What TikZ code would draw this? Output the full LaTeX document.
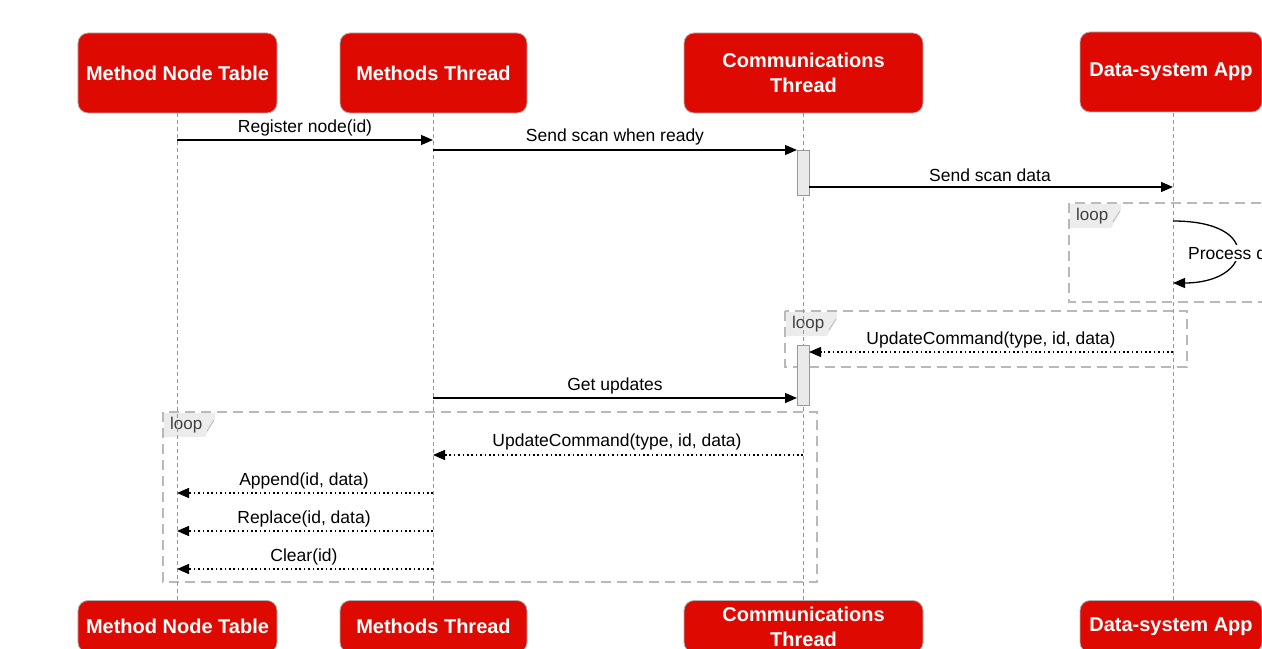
\documentclass[tikz,border=0pt]{standalone}
\usepackage{fontspec}
\setmainfont{Liberation Sans}
\usetikzlibrary{arrows.meta}
\definecolor{boxred}{RGB}{222,10,2}
\definecolor{lifegray}{RGB}{150,150,150}
\definecolor{framegray}{RGB}{185,185,185}
\definecolor{tabgray}{RGB}{236,236,236}
\definecolor{actgray}{RGB}{234,234,234}
\tikzset{
  actor/.style={draw=gray!60, line width=0.8bp, fill=boxred, rounded corners=10bp, text=white,
    font=\fontsize{20bp}{25bp}\selectfont\bfseries, align=center, inner sep=0pt},
  lifeline/.style={draw=lifegray, line width=0.8bp, dash pattern=on 4bp off 3bp},
  loopframe/.style={draw=framegray, line width=1.4bp, dash pattern=on 10bp off 6bp},
  looptab/.style={fill=tabgray, draw=none},
  looptext/.style={font=\fontsize{17bp}{19bp}\selectfont, text=black!75, inner sep=0pt},
  activation/.style={draw=gray!80, line width=0.8bp, fill=actgray, inner sep=0pt},
  msg/.style={draw=black, line width=1.3bp, -{Triangle[length=12bp,width=10bp]}},
  reply/.style={draw=black, line width=1.4bp, dash pattern=on 1.6bp off 2.8bp, -{Triangle[length=12bp,width=10bp]}},
  lbl/.style={font=\fontsize{17.5bp}{20bp}\selectfont, inner sep=1bp}
}
\begin{document}
\begin{tikzpicture}[x=1bp,y=-1bp]
\useasboundingbox (0,0) rectangle (1262,649);
\clip (0,0) rectangle (1262,649);

% loop frames
\draw[loopframe] (1069,203) rectangle (1290,302);
\draw[loopframe] (785,311) rectangle (1187,367);
\draw[loopframe] (163,412) rectangle (817,582);

% loop tabs
\foreach \x/\y/\n in {1069/203/a,785/311/b,163/412/c}{
  \fill[looptab] (\x+1,\y+1) -- (\x+52,\y+1) -- (\x+52,\y+7) -- (\x+42,\y+25) -- (\x+1,\y+25) -- cycle;
  \draw[framegray, line width=0.8bp] (\x+51,\y+8) -- (\x+44,\y+19);
  \node[looptext, anchor=west] (loop\n) at (\x+7,\y+13) {loop};
}

% actors
\node[actor, minimum width=199bp, minimum height=80bp] (t1) at (177.5,73) {Method Node Table};
\node[actor, minimum width=187bp, minimum height=80bp] (t2) at (433.5,73) {Methods Thread};
\node[actor, minimum width=239bp, minimum height=80bp] (t3) at (803.5,73) {Communications\\Thread};
\node[actor, minimum width=182bp, minimum height=80bp] (t4) at (1171,72) {Data-system App};

\node[actor, minimum width=199bp, minimum height=52bp] (b1) at (177.5,626.5) {Method Node Table};
\node[actor, minimum width=187bp, minimum height=52bp] (b2) at (433.5,626.5) {Methods Thread};
\node[actor, minimum width=239bp, minimum height=52bp] (b3) at (803.5,626.5) {Communications\\Thread};
\node[actor, minimum width=182bp, minimum height=52bp] (b4) at (1171,626.5) {Data-system App};

% lifelines
\coordinate (l1t) at (177,113); \coordinate (l1b) at (177,600);
\coordinate (l2t) at (433,113); \coordinate (l2b) at (433,600);
\coordinate (l3t) at (803,113); \coordinate (l3b) at (803,600);
\coordinate (l4t) at (1173,113); \coordinate (l4b) at (1173,600);
\draw[lifeline] (l1t) -- (l1b);
\draw[lifeline] (l2t) -- (l2b);
\draw[lifeline] (l3t) -- (l3b);
\draw[lifeline] (l4t) -- (l4b);

% activation bars
\node[activation, minimum width=12bp, minimum height=45bp] (act1) at (803,172.5) {};
\node[activation, minimum width=12bp, minimum height=60bp] (act2) at (803,375) {};

% message endpoints
\coordinate (m1a) at (177,140); \coordinate (m1b) at (433,140);
\coordinate (m2a) at (433,150); \coordinate (m2b) at (797,150);
\coordinate (m3a) at (809,187); \coordinate (m3b) at (1173,187);
\coordinate (m4a) at (1173,221); \coordinate (m4b) at (1173,283);
\coordinate (m5a) at (1173,352); \coordinate (m5b) at (809,352);
\coordinate (m6a) at (433,398); \coordinate (m6b) at (797,398);
\coordinate (m7a) at (803,455); \coordinate (m7b) at (433,455);
\coordinate (m8a) at (433,493); \coordinate (m8b) at (177,493);
\coordinate (m9a) at (433,531); \coordinate (m9b) at (177,531);
\coordinate (m10a) at (433,569); \coordinate (m10b) at (177,569);

\draw[msg] (m1a) -- (m1b);
\node[lbl] (lb1) at (305,128) {Register node(id)};
\draw[msg] (m2a) -- (m2b);
\node[lbl] (lb2) at (615,137) {Send scan when ready};
\draw[msg] (m3a) -- (m3b);
\node[lbl] (lb3) at (990,175) {Send scan data};
\draw[msg] (m4a) .. controls (1218,221) and (1238,236) .. (1238,252) .. controls (1238,268) and (1218,283) .. (m4b);
\node[lbl, fill=white, anchor=west, inner sep=2bp] (lb4) at (1186,253) {Process data};
\draw[reply] (m5a) -- (m5b);
\node[lbl] (lb5) at (991,340) {UpdateCommand(type, id, data)};
\draw[msg] (m6a) -- (m6b);
\node[lbl] (lb6) at (615,386) {Get updates};
\draw[reply] (m7a) -- (m7b);
\node[lbl] (lb7) at (617,442) {UpdateCommand(type, id, data)};
\draw[reply] (m8a) -- (m8b);
\node[lbl] (lb8) at (304,481) {Append(id, data)};
\draw[reply] (m9a) -- (m9b);
\node[lbl] (lb9) at (304,519) {Replace(id, data)};
\draw[reply] (m10a) -- (m10b);
\node[lbl] (lb10) at (304,557) {Clear(id)};
\end{tikzpicture}
\end{document}
